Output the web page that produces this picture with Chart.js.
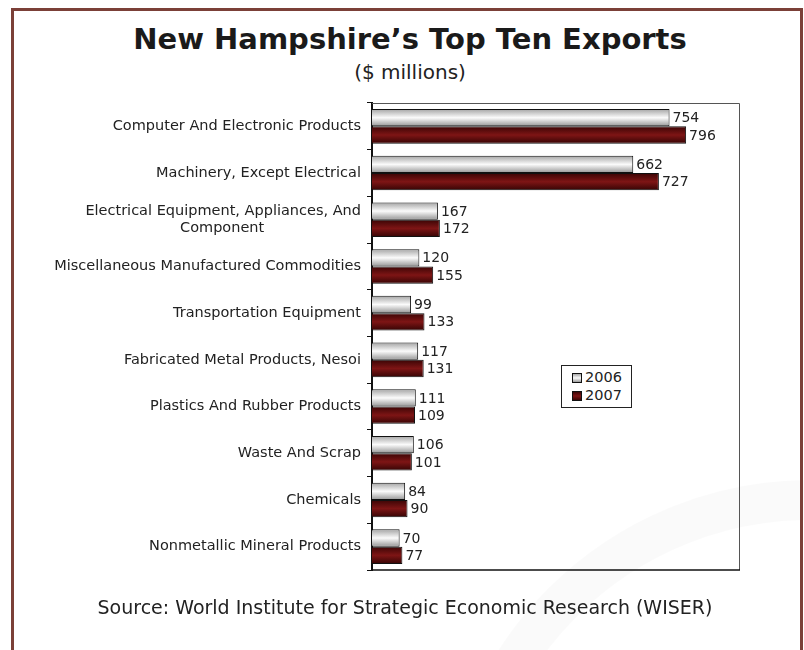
<!DOCTYPE html>
<html>
<head>
<meta charset="utf-8">
<script src="https://cdn.jsdelivr.net/npm/chart.js@4/dist/chart.umd.min.js"></script>
<style>
  html, body { margin: 0; padding: 0; background: #fff; }
  #wrap { position: relative; width: 804px; height: 650px; overflow: hidden; }
  #frame { position: absolute; left: 11px; top: 8px; width: 786px; height: 660px;
    border: 3px solid #7b4038; border-bottom: none; }
  #ring { position: absolute; left: 440px; top: 480px; width: 660px; height: 660px;
    border-radius: 50%; border: 40px solid rgba(0,0,0,0.018); }
  canvas { position: absolute; left: 0; top: 0; }
  .txt { position: absolute; left: 0; width: 820px; text-align: center; color: #1a1a1a;
    font-family: "DejaVu Sans", Verdana, sans-serif; white-space: nowrap; }
  #title { top: 22px; font-size: 29px; line-height: 34px; font-weight: bold; }
  #subtitle { top: 60px; font-size: 20px; line-height: 24px; color: #222; }
  #source { width: 810px; top: 596px; font-size: 19px; color: #222; }
  #legend { position: absolute; left: 561px; top: 365px; width: 71px; height: 43px;
    border: 1px solid #222; background: #fff; box-sizing: border-box;
    font: 14.5px "DejaVu Sans", Verdana, sans-serif; color: #222; }
  .item { position: absolute; left: 10px; height: 16px; line-height: 16px; }
  .sw { display: inline-block; width: 8px; height: 8px; border: 1px solid #111;
    vertical-align: -1px; margin-right: 3px; }
</style>
</head>
<body>
<div id="wrap">
  <div id="ring"></div>
  <div id="frame"></div>
  <div id="title" class="txt">New Hampshire’s Top Ten Exports</div>
  <div id="subtitle" class="txt">($ millions)</div>
  <canvas id="c" width="804" height="650"></canvas>
  <div id="legend">
    <div class="item" style="top:3px"><span class="sw" style="background:linear-gradient(#a8a8a8,#fafafa,#9a9a9a)"></span>2006</div>
    <div class="item" style="top:21px"><span class="sw" style="background:linear-gradient(#3c0606,#7d1414,#3a0505)"></span>2007</div>
  </div>
  <div id="source" class="txt">Source: World Institute for Strategic Economic Research (WISER)</div>
</div>
<script>
const categories = [
  'Computer And Electronic Products',
  'Machinery, Except Electrical',
  'Electrical Equipment, Appliances, And Component',
  'Miscellaneous Manufactured Commodities',
  'Transportation Equipment',
  'Fabricated Metal Products, Nesoi',
  'Plastics And Rubber Products',
  'Waste And Scrap',
  'Chemicals',
  'Nonmetallic Mineral Products'
];
const values2006 = [754, 662, 167, 120, 99, 117, 111, 106, 84, 70];
const values2007 = [796, 727, 172, 155, 133, 131, 109, 101, 90, 77];

const catPct = 0.74;
const labelFont = '14.5px "DejaVu Sans", Verdana, sans-serif';

// vertical gradient per bar, worked out from the category scale
function barGradient(stops) {
  return ctx => {
    const chart = ctx.chart;
    const y = chart.scales.y;
    if (!y || ctx.dataIndex === undefined) return stops[1];
    const c = y.getPixelForValue(ctx.dataIndex);
    const h = (y.height / categories.length) * catPct / 2;
    if (!isFinite(c) || !isFinite(h) || h <= 0) return stops[1];
    const top = ctx.datasetIndex === 0 ? c - h : c;
    const g = chart.ctx.createLinearGradient(0, top, 0, top + h);
    g.addColorStop(0, stops[0]);
    g.addColorStop(0.5, stops[1]);
    g.addColorStop(1, stops[2]);
    return g;
  };
}

// tick labels are right aligned; pad the short 2nd line so it sits centred under the 1st
const measure = document.createElement('canvas').getContext('2d');
measure.font = labelFont;
function centredLines(a, b) {
  const wa = measure.measureText(a).width;
  const sp = measure.measureText(' ').width;
  let pad = '';
  while (measure.measureText(b + pad).width < (wa + measure.measureText(b).width) / 2 - sp / 2) pad += ' ';
  return [a, b + pad];
}

const frameBox = {
  id: 'frameBox',
  afterDraw(chart) {
    const { ctx, chartArea: a } = chart;
    ctx.save();
    ctx.strokeStyle = '#555';
    ctx.lineWidth = 1;
    ctx.beginPath();
    ctx.moveTo(a.left, a.top + 0.5);
    ctx.lineTo(a.right + 0.5, a.top + 0.5);
    ctx.lineTo(a.right + 0.5, a.bottom);
    ctx.stroke();
    ctx.strokeStyle = '#111';
    ctx.lineWidth = 1.5;
    ctx.beginPath();
    ctx.moveTo(a.left, a.bottom);
    ctx.lineTo(a.right + 1, a.bottom);
    ctx.stroke();
    ctx.restore();
  }
};

const valueLabels = {
  id: 'valueLabels',
  afterDatasetsDraw(chart) {
    const ctx = chart.ctx;
    ctx.save();
    ctx.font = '14px "DejaVu Sans", Verdana, sans-serif';
    ctx.fillStyle = '#222';
    ctx.textBaseline = 'middle';
    ctx.textAlign = 'left';
    chart.data.datasets.forEach((ds, i) => {
      chart.getDatasetMeta(i).data.forEach((bar, j) => {
        ctx.fillText(ds.data[j], bar.x + 3, bar.y + 1);
      });
    });
    ctx.restore();
  }
};

new Chart(document.getElementById('c'), {
  type: 'bar',
  data: {
    labels: categories,
    datasets: [
      { label: '2006', data: values2006,
        backgroundColor: barGradient(['#a4a4a4', '#fbfbfb', '#959595']),
        borderColor: '#111', borderWidth: 1 },
      { label: '2007', data: values2007,
        backgroundColor: barGradient(['#3a0505', '#7e1515', '#350404']),
        borderColor: '#111', borderWidth: 1 }
    ]
  },
  options: {
    indexAxis: 'y',
    responsive: false,
    animation: false,
    events: [],
    layout: { padding: { left: 10, right: 65, top: 103, bottom: 80 } },
    datasets: { bar: { categoryPercentage: catPct, barPercentage: 1 } },
    plugins: {
      legend: { display: false },
      tooltip: { enabled: false }
    },
    scales: {
      x: {
        display: false,
        min: 0,
        max: 930
      },
      y: {
        afterFit(scale) { scale.width = 362; },
        border: { display: true, color: '#111', width: 2 },
        grid: { drawOnChartArea: false, tickLength: 5, color: '#111', offset: true },
        ticks: {
          color: '#222',
          padding: 6,
          font: { family: '"DejaVu Sans", Verdana, sans-serif', size: 14.5, lineHeight: 1.2 },
          callback(v, i) {
            const s = categories[i];
            if (s.length > 40) {
              const k = s.lastIndexOf(' ');
              return centredLines(s.slice(0, k), s.slice(k + 1));
            }
            return s;
          }
        }
      }
    }
  },
  plugins: [frameBox, valueLabels]
});
</script>
</body>
</html>
